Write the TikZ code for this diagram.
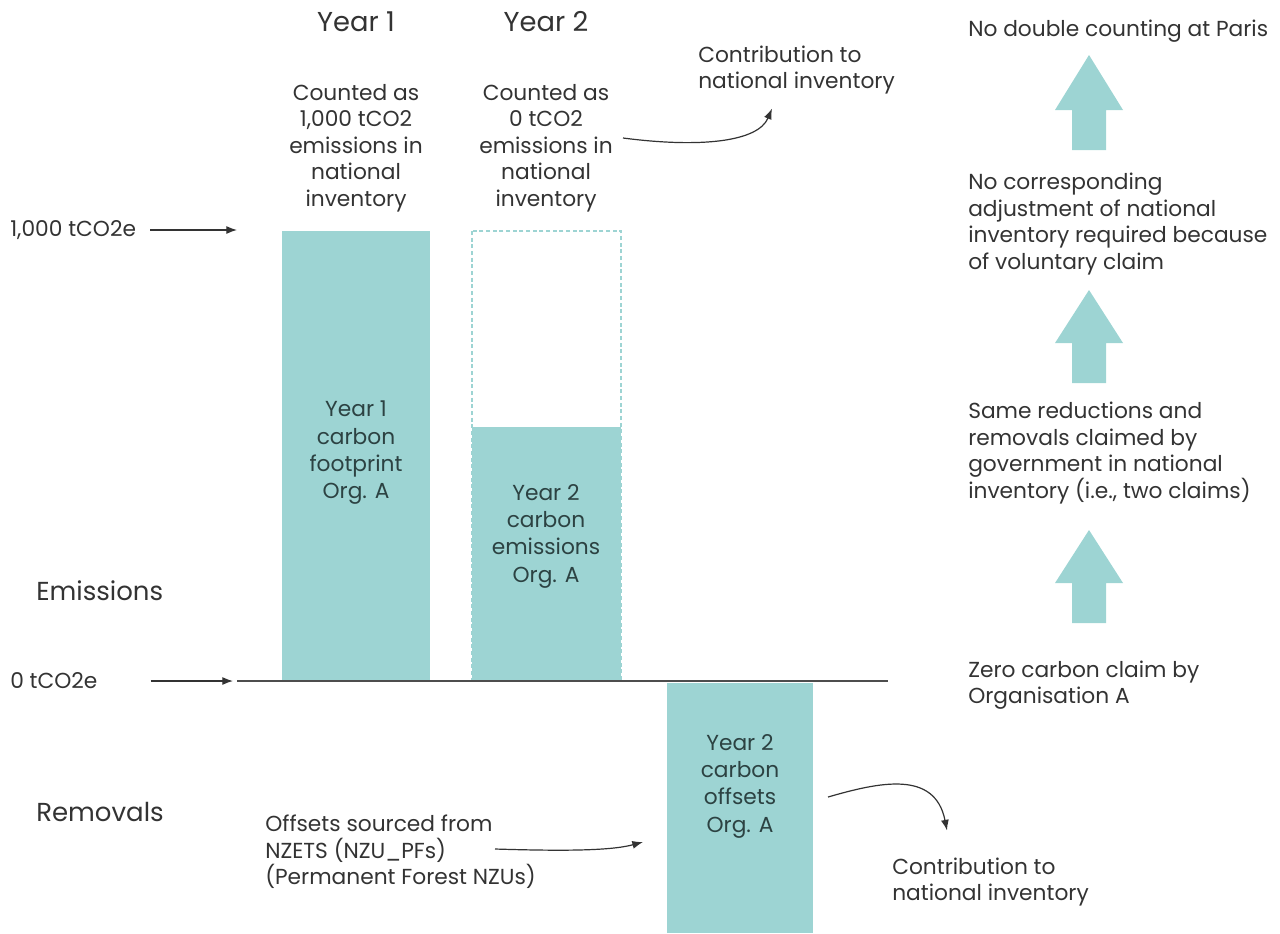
\documentclass[tikz,border=0pt]{standalone}
\usepackage{fontspec}
\setmainfont{Poppins}
\usetikzlibrary{arrows.meta}

\definecolor{tealbar}{HTML}{9DD4D3}
\definecolor{inkgrey}{HTML}{333333}
\definecolor{bartxt}{HTML}{2C4242}
\definecolor{axisgrey}{HTML}{4D4D4D}

\tikzset{
  note/.style={text=inkgrey, inner sep=0pt, align=center, font=\fontsize{16.3}{19.8}\selectfont},
  notel/.style={note, align=left},
  heading/.style={note, font=\fontsize{20.5}{24}\selectfont},
  region/.style={notel, font=\fontsize{19.5}{22}\selectfont},
  barlabel/.style={note, text=bartxt, font=\fontsize{16.3}{20.5}\selectfont},
  pointer/.style={-{Latex[length=8pt,width=6pt]}, inkgrey, line width=0.9pt},
}

\begin{document}
\begin{tikzpicture}[x=0.75pt,y=-0.75pt]
    \useasboundingbox (0,0) rectangle (1280,933);

    % Bars
    \fill[tealbar] (282,231) rectangle (430,681);
    \fill[tealbar] (472,427) rectangle (621,681);
    \draw[tealbar, line width=1pt, dash pattern=on 3pt off 2pt] (472,231) rectangle (621,681);
    \fill[tealbar] (667,683) rectangle (813,933);

    % Zero line
    \draw[axisgrey, line width=2.2pt] (237,681) -- (888,681);

    % Column headings
    \node[heading] (yr1) at (356,22) {Year 1};
    \node[heading] (yr2) at (546,22) {Year 2};

    % Inventory notes
    \node[note] (cnt1) at (356,148) {Counted as\\1,000 tCO2\\emissions in\\national\\inventory};
    \node[note] (cnt2) at (546,148) {Counted as\\0 tCO2\\emissions in\\national\\inventory};
    \node[notel, anchor=west] (natup) at (698,70) {Contribution to\\national inventory};

    % Level markers
    \node[notel, anchor=west] (lvl1000) at (10,230) {1,000 tCO2e};
    \node[notel, anchor=west] (lvl0) at (10,681) {0 tCO2e};
    \coordinate (lvl1000tip) at (237,230);
    \coordinate (lvl0tip) at (233,681);
    \draw[pointer] ([shift={(14,0)}]lvl1000.east) -- (lvl1000tip);
    \draw[pointer] ([shift={(53,0)}]lvl0.east) -- (lvl0tip);

    % Region labels
    \node[region, anchor=west] (emis) at (36,591) {Emissions};
    \node[region, anchor=west] (remov) at (36,812) {Removals};

    % Bar labels
    \node[barlabel] (bar1txt) at (356,453) {Year 1\\carbon\\footprint\\Org. A};
    \node[barlabel] (bar2txt) at (546,536) {Year 2\\carbon\\emissions\\Org. A};
    \node[barlabel] (bar3txt) at (740,786) {Year 2\\carbon\\offsets\\Org. A};

    % Offsets source and contribution
    \node[notel, anchor=west] (source) at (265,852) {Offsets sourced from\\NZETS (NZU\_PFs)\\(Permanent Forest NZUs)};
    \node[notel, anchor=west] (natdown) at (892,882) {Contribution to\\national inventory};
    \coordinate (bar3in) at (643,842);
    \coordinate (bar3out) at (828,797);

    % Curved arrows
    \draw[pointer] ([shift={(10,-10)}]cnt2.east) .. controls (700,148) and (758,142) .. ([shift={(74,14)}]natup.south west);
    \draw[pointer] ([shift={(230,-3)}]source.west) .. controls (560,851) and (610,851) .. (bar3in);
    \draw[pointer] (bar3out) .. controls (880,782) and (935,770) .. ([shift={(55,-27)}]natdown.north west);

    % Claim chain
    \node[notel, anchor=west] (paris) at (968,31) {No double counting at Paris};
    \node[notel, anchor=west] (nocorr) at (968,224) {No corresponding\\adjustment of national\\inventory required because\\of voluntary claim};
    \node[notel, anchor=west] (same) at (968,453) {Same reductions and\\removals claimed by\\government in national\\inventory (i.e., two claims)};
    \node[notel, anchor=west] (zero) at (968,685) {Zero carbon claim by\\Organisation A};

    % Block arrows
    \fill[tealbar] (1072,150) -- (1072,110) -- (1055,110) -- (1089,55) -- (1123,110) -- (1106,110) -- (1106,150) -- cycle;
    \fill[tealbar] (1072,383) -- (1072,343) -- (1055,343) -- (1089,290) -- (1123,343) -- (1106,343) -- (1106,383) -- cycle;
    \fill[tealbar] (1072,623) -- (1072,583) -- (1055,583) -- (1089,530) -- (1123,583) -- (1106,583) -- (1106,623) -- cycle;
\end{tikzpicture}
\end{document}
